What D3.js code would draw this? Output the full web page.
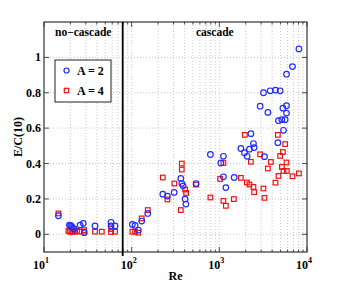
<!DOCTYPE html>
<html><head><meta charset="utf-8">
<script src="https://cdn.jsdelivr.net/npm/d3@7"></script>
<style>body{margin:0;background:#fff}svg{display:block}text{font-family:"Liberation Serif","Times New Roman",serif;font-weight:bold}</style>
</head><body><div id="chart"></div>
<script>
const reA2 = [14.6,19.5,20.1,20.6,21.1,22.0,25.8,28.1,28.8,38.2,58.2,58.2,64.6,101.8,109.3,119.2,130.3,152.6,226.5,255.6,305,363.6,373,386,407,415,543,791,1040,1113,1113,1186,1475,1760,1935,2076,2206,2290,2450,2495,2921,3187,3273,3578,3802,4368,4652,4728,4942,5168,5309,5395,5639,5838,5838,5838,6829,8083];
const ecA2 = [0.105,0.052,0.05,0.044,0.038,0.03,0.052,0.062,0.009,0.047,0.068,0.047,0.047,0.056,0.05,0.024,0.075,0.118,0.227,0.216,0.237,0.316,0.287,0.274,0.199,0.171,0.287,0.451,0.403,0.441,0.325,0.264,0.321,0.485,0.461,0.441,0.481,0.569,0.513,0.49,0.724,0.8,0.439,0.689,0.811,0.815,0.518,0.642,0.811,0.648,0.713,0.588,0.648,0.727,0.685,0.905,0.948,1.048];
const reA4 = [14.6,19.0,19.8,20.6,21.4,22.6,23.8,25.3,28.7,28.7,38.2,45.6,58.2,58.2,64.6,101.8,109.3,119.2,130.3,152.6,226.5,255.6,307,363.6,373,373,407,418,543,791,1021,1113,1113,1186,1465,1760,1955,2061,2206,2290,2450,2495,2921,3187,3273,3578,3873,4368,4652,4728,4942,5168,5309,5395,5639,5838,5890,6829,8083];
const ecA4 = [0.118,0.019,0.015,0.015,0.015,0.015,0.019,0.015,0.015,0.024,0.015,0.015,0.03,0.013,0.015,0.015,0.015,0.009,0.09,0.137,0.321,0.197,0.287,0.137,0.4,0.366,0.253,0.234,0.281,0.208,0.313,0.403,0.189,0.161,0.199,0.319,0.562,0.293,0.282,0.41,0.268,0.238,0.452,0.259,0.206,0.372,0.409,0.292,0.562,0.33,0.443,0.381,0.465,0.358,0.51,0.406,0.358,0.328,0.344];
const yTicks = [0,0.2,0.4,0.6,0.8,1];
const yTickLabels = ["0","0.2","0.4","0.6","0.8","1"];
const xMajor = [10,100,1000,10000];
const xMajorExp = ["1","2","3","4"];
const reThreshold = 79;
const legendLabels = ["A = 2","A = 4"];
const regionLabels = ["no\u2212cascade","cascade"];

const W=339,H=289, L=44,R=307,T=22,B=252;
const svg=d3.select("#chart").append("svg").attr("width",W).attr("height",H);
const x=d3.scaleLog().domain([10,10000]).range([L,R]);
const y=d3.scaleLinear().domain([-0.1,1.2]).range([B,T]);

// minor log ticks
const xMinor=[];
for(let d=10; d<10000; d*=10){ for(let k=2;k<=9;k++) xMinor.push(d*k); }
const g=svg.append("g");
// grid
g.selectAll(".gx").data(xMinor.concat(xMajor.slice(1,3))).enter().append("line")
 .attr("x1",d=>x(d)).attr("x2",d=>x(d)).attr("y1",T).attr("y2",B)
 .attr("stroke","#bdbdbd").attr("stroke-width",0.8).attr("stroke-dasharray","1,2");
g.selectAll(".gy").data(yTicks).enter().append("line")
 .attr("x1",L).attr("x2",R).attr("y1",d=>y(d)).attr("y2",d=>y(d))
 .attr("stroke","#bdbdbd").attr("stroke-width",0.8).attr("stroke-dasharray","1,2");

// ticks inward on all sides
const tk=svg.append("g").attr("stroke","#222").attr("stroke-width",0.8);
xMinor.forEach(d=>{tk.append("line").attr("x1",x(d)).attr("x2",x(d)).attr("y1",B).attr("y2",B-2.5);
 tk.append("line").attr("x1",x(d)).attr("x2",x(d)).attr("y1",T).attr("y2",T+2.5);});
xMajor.forEach(d=>{tk.append("line").attr("x1",x(d)).attr("x2",x(d)).attr("y1",B).attr("y2",B-5);
 tk.append("line").attr("x1",x(d)).attr("x2",x(d)).attr("y1",T).attr("y2",T+5);});
yTicks.forEach(d=>{tk.append("line").attr("x1",L).attr("x2",L+5).attr("y1",y(d)).attr("y2",y(d));
 tk.append("line").attr("x1",R).attr("x2",R-5).attr("y1",y(d)).attr("y2",y(d));});

// frame
svg.append("rect").attr("x",L).attr("y",T).attr("width",R-L).attr("height",B-T)
 .attr("fill","none").attr("stroke","#333").attr("stroke-width",1.2);

// threshold line
svg.append("line").attr("x1",x(reThreshold)).attr("x2",x(reThreshold)).attr("y1",T).attr("y2",B+4)
 .attr("stroke","#000").attr("stroke-width",1.8);

// tick labels
svg.selectAll(".yl").data(yTicks).enter().append("text")
 .attr("x",L-3).attr("y",d=>y(d)+4).attr("text-anchor","end").attr("font-size",12)
 .text((d,i)=>yTickLabels[i]);
xMajor.forEach((d,i)=>{
 const t=svg.append("text").attr("x",x(d)-3).attr("y",269).attr("text-anchor","middle").attr("font-size",12);
 t.append("tspan").text("10");
 t.append("tspan").attr("dy",-6).attr("font-size",8).text(xMajorExp[i]);
});
svg.append("text").attr("x",(L+R)/2).attr("y",280).attr("text-anchor","middle").attr("font-size",12).text("Re");
svg.append("text").attr("transform",`translate(22,${(T+B)/2}) rotate(-90)`).attr("text-anchor","middle").attr("font-size",12).text("E/C(10)");

// region labels
svg.append("text").attr("x",55).attr("y",36).attr("font-size",11.5).text(regionLabels[0]);
svg.append("text").attr("x",196).attr("y",36).attr("font-size",11.5).text(regionLabels[1]);

// data
const blue="#1f2bff", red="#f01010";
svg.append("g").selectAll("rect").data(reA4.map((r,i)=>[r,ecA4[i]])).enter().append("rect")
 .attr("x",d=>x(d[0])-2.3).attr("y",d=>y(d[1])-2.3).attr("width",4.6).attr("height",4.6)
 .attr("fill","none").attr("stroke",red).attr("stroke-width",1.2);
svg.append("g").selectAll("circle").data(reA2.map((r,i)=>[r,ecA2[i]])).enter().append("circle")
 .attr("cx",d=>x(d[0])).attr("cy",d=>y(d[1])).attr("r",2.8)
 .attr("fill","none").attr("stroke",blue).attr("stroke-width",1.2);

// legend
const lg=svg.append("g");
lg.append("rect").attr("x",55).attr("y",60).attr("width",56).attr("height",42).attr("fill","#fff").attr("stroke","#222").attr("stroke-width",1);
lg.append("circle").attr("cx",66.5).attr("cy",70.5).attr("r",2.5).attr("fill","none").attr("stroke",blue).attr("stroke-width",1.2);
lg.append("rect").attr("x",64.3).attr("y",88.3).attr("width",4.4).attr("height",4.4).attr("fill","none").attr("stroke",red).attr("stroke-width",1.2);
lg.append("text").attr("x",77).attr("y",75).attr("font-size",12).text(legendLabels[0]);
lg.append("text").attr("x",77).attr("y",95).attr("font-size",12).text(legendLabels[1]);
</script></body></html>
